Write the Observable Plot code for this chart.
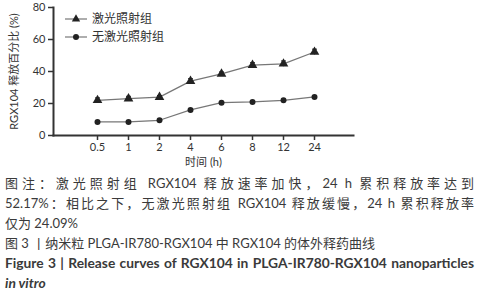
<!DOCTYPE html>
<html><head><meta charset="utf-8">
<script src="https://cdn.jsdelivr.net/npm/d3@7"></script>
<script src="https://cdn.jsdelivr.net/npm/@observablehq/plot@0.6"></script>
<style>
body{margin:0;background:#fff;font-family:Lato,"Noto Sans CJK SC",sans-serif;color:#3a3a3a;}
#wrap{position:relative;width:479px;height:168px;}
#legend{position:absolute;left:0;top:0;font-size:12px;}
.cap{position:relative;width:469px;margin-left:5px;font-size:13px;line-height:20px;color:#3a3a3a;white-space:nowrap;}
.j{text-align:justify;text-align-last:justify;}
.b{font-weight:bold;font-size:13.8px;}
</style></head><body>
<div id="wrap"><div id="chart"></div><div id="legend"></div></div>
<div style="height:5px"></div>
<div class="cap j">图注：激光照射组 RGX104 释放速率加快，24 h 累积释放率达到</div>
<div class="cap j">52.17%：相比之下，无激光照射组 RGX104 释放缓慢，24 h 累积释放率</div>
<div class="cap">仅为 24.09%</div>
<div class="cap">图 3 丨纳米粒 PLGA-IR780-RGX104 中 RGX104 的体外释药曲线</div>
<div class="cap j b">Figure 3 | Release curves of RGX104 in PLGA-IR780-RGX104 nanoparticles</div>
<div class="cap b"><i>in vitro</i></div>
<script>
const times = ["0.5","1","2","4","6","8","12","24"];
const seriesNames = ["激光照射组","无激光照射组"];
const laser = [22, 23, 24, 34, 38.5, 44, 44.8, 52.17];
const laserErr = [1.5, 1.5, 1, 1.5, 1.2, 1.5, 1.8, 1.8];
const noLaser = [8.5, 8.5, 9.5, 16, 20.5, 21, 22, 24.09];
const noLaserErr = [0.5, 0.5, 0.5, 0.6, 0.6, 0.6, 0.6, 0.6];
const yTicks = [0, 20, 40, 60, 80];

const data = [];
times.forEach((t,i)=>{
  data.push({t, v: laser[i], e: laserErr[i], s: seriesNames[0]});
  data.push({t, v: noLaser[i], e: noLaserErr[i], s: seriesNames[1]});
});
const cap = {draw(ctx, size){ const w = 2.5; ctx.moveTo(-w,0); ctx.lineTo(w,0); }};

const chart = Plot.plot({
  width: 479, height: 168,
  marginLeft: 53, marginRight: 126, marginTop: 7, marginBottom: 33,
  style: {fontFamily: 'Lato,"Noto Sans CJK SC",sans-serif', fontSize: "11px", color: "#333", background: "#fff"},
  x: {type: "point", domain: times, range: [78, 332]},
  y: {domain: [0, 80]},
  marks: [
    Plot.axisX({tickSize: 5, tickPadding: 3, strokeWidth: 1.5, stroke: "#333", fontSize: 11, label: "时间 (h)", labelAnchor: "center", labelArrow: "none", labelOffset: 30}),
    Plot.axisY({ticks: yTicks, tickSize: 5, tickPadding: 3, strokeWidth: 1.5, stroke: "#333", fontSize: 11, label: "RGX104 释放百分比 (%)", labelAnchor: "center", labelArrow: "none", labelOffset: 43}),
    Plot.frame({anchor: "left", stroke: "#333", strokeWidth: 2}),
    Plot.frame({anchor: "bottom", stroke: "#333", strokeWidth: 2}),
    Plot.line(data, {x: "t", y: "v", z: "s", stroke: "#777", strokeWidth: 1.2}),
    Plot.ruleX(data, {x: "t", y1: d => d.v - d.e, y2: d => d.v + d.e, stroke: "#222", strokeWidth: 1}),
    Plot.dot(data, {x: "t", y: d => d.v + d.e, symbol: cap, stroke: "#222", strokeWidth: 1, r: 3}),
    Plot.dot(data.filter(d=>d.s===seriesNames[0]), {x: "t", y: "v", symbol: "triangle", r: 3.6, fill: "#222", stroke: "none"}),
    Plot.dot(data.filter(d=>d.s===seriesNames[1]), {x: "t", y: "v", symbol: "circle", r: 3, fill: "#222", stroke: "none"})
  ]
});
document.getElementById("chart").append(chart);

const lg = d3.select("#legend").append("svg").attr("width", 200).attr("height", 50)
  .style("font-family", 'Lato,"Noto Sans CJK SC",sans-serif');
seriesNames.forEach((n,i)=>{
  const y = i===0 ? 19 : 37;
  const g = lg.append("g");
  g.append("line").attr("x1",65).attr("x2",87).attr("y1",y).attr("y2",y).attr("stroke","#777").attr("stroke-width",1.2);
  if(i===0) g.append("path").attr("d", d3.symbol(d3.symbolTriangle, 30)()).attr("transform",`translate(76,${y})`).attr("fill","#222");
  else g.append("circle").attr("cx",76).attr("cy",y).attr("r",3).attr("fill","#222");
  g.append("text").attr("x",92).attr("y",y).attr("dy","0.35em").attr("font-size",12).attr("fill","#333").text(n);
});
</script>
</body></html>
